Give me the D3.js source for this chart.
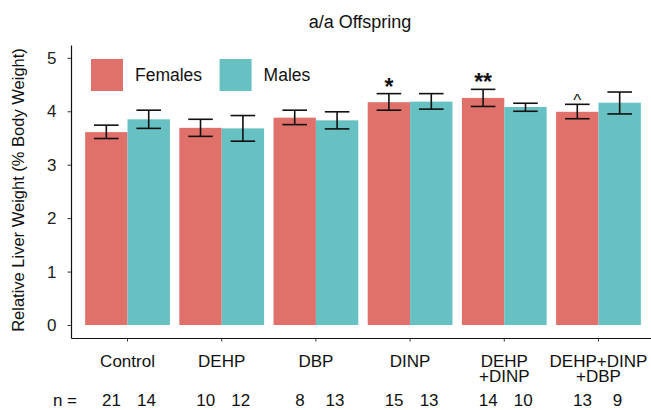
<!DOCTYPE html>
<html>
<head>
<meta charset="utf-8">
<script src="https://cdn.jsdelivr.net/npm/d3@7"></script>
<style>
  body { margin: 0; background: #fff; }
  svg { display: block; font-family: "Liberation Sans", Arial, Helvetica, sans-serif; }
</style>
</head>
<body>
<div id="chart"></div>
<script>
// data
const groups = ["Control", "DEHP", "DBP", "DINP", "DEHP\n+DINP", "DEHP+DINP\n+DBP"];
const sexes = ["Females", "Males"];
const femaleMean = [3.61, 3.69, 3.88, 4.17, 4.25, 3.99];
const femaleLow  = [3.49, 3.53, 3.75, 4.02, 4.09, 3.86];
const femaleHigh = [3.74, 3.85, 4.02, 4.33, 4.41, 4.13];
const maleMean = [3.85, 3.68, 3.83, 4.18, 4.08, 4.16];
const maleLow  = [3.68, 3.44, 3.67, 4.04, 4.00, 3.95];
const maleHigh = [4.02, 3.92, 3.99, 4.33, 4.15, 4.36];
const femaleN = [21, 10, 8, 15, 14, 13];
const maleN = [14, 12, 13, 13, 10, 9];
const femaleMarks = ["", "", "", "*", "**", "^"];
const yTicks = [0, 1, 2, 3, 4, 5];

const colors = { Females: "#E0716A", Males: "#67C1C3" };

const width = 651, height = 410;
const svg = d3.select("#chart").append("svg")
  .attr("width", width)
  .attr("height", height);

// build rows for the bars
const rows = [];
groups.forEach((g, i) => {
  rows.push({ group: g, sex: "Females", mean: femaleMean[i], lo: femaleLow[i], hi: femaleHigh[i], n: femaleN[i], mark: femaleMarks[i] });
  rows.push({ group: g, sex: "Males", mean: maleMean[i], lo: maleLow[i], hi: maleHigh[i], n: maleN[i], mark: "" });
});

var x = d3.scaleBand()
  .domain(groups)
  .range([71, 655])
  .paddingInner(0.1)
  .paddingOuter(0.15);

var xSub = d3.scaleBand()
  .domain(sexes)
  .range([0, x.bandwidth()]);

var y = d3.scaleLinear()
  .domain([-0.243, 5.24])
  .range([338, 45]);

// bars
svg.append("g")
  .selectAll("rect")
  .data(rows)
  .enter()
  .append("rect")
    .attr("x", d => x(d.group) + xSub(d.sex))
    .attr("y", d => y(d.mean))
    .attr("width", xSub.bandwidth())
    .attr("height", d => y(0) - y(d.mean))
    .attr("fill", d => colors[d.sex]);

// error bars
const capHalf = 12.3;
const err = svg.append("g")
  .attr("stroke", "#111")
  .attr("stroke-width", 1.6)
  .attr("fill", "none");
rows.forEach(d => {
  const cx = x(d.group) + xSub(d.sex) + xSub.bandwidth() / 2;
  err.append("line").attr("x1", cx).attr("x2", cx).attr("y1", y(d.lo)).attr("y2", y(d.hi));
  err.append("line").attr("x1", cx - capHalf).attr("x2", cx + capHalf).attr("y1", y(d.lo)).attr("y2", y(d.lo));
  err.append("line").attr("x1", cx - capHalf).attr("x2", cx + capHalf).attr("y1", y(d.hi)).attr("y2", y(d.hi));
});

// significance marks
svg.append("g")
  .selectAll("text")
  .data(rows.filter(d => d.mark !== ""))
  .enter()
  .append("text")
    .attr("x", d => x(d.group) + xSub(d.sex) + xSub.bandwidth() / 2)
    .attr("y", d => d.mark === "^" ? y(d.hi) + 2 : y(d.hi) + 1)
    .attr("text-anchor", "middle")
    .attr("font-size", d => d.mark === "^" ? 17 : 23)
    .attr("font-weight", d => d.mark === "^" ? "normal" : "bold")
    .attr("fill", "#111")
    .text(d => d.mark);

// y axis
const yAxis = svg.append("g")
  .attr("transform", "translate(71,0)")
  .call(d3.axisLeft(y).tickValues(yTicks).tickFormat(d3.format("d")).tickSize(3.5).tickSizeOuter(0).tickPadding(11));
yAxis.select(".domain").attr("stroke", "#111").attr("stroke-width", 1.2);
yAxis.selectAll(".tick line").attr("stroke", "#333");
yAxis.selectAll(".tick text")
  .attr("font-size", 17)
  .attr("fill", "#222")
  .attr("font-family", "Liberation Sans, Arial, sans-serif");

// x axis
const xAxis = svg.append("g")
  .attr("transform", "translate(0,338)")
  .call(d3.axisBottom(x).tickSize(3.5).tickSizeOuter(0).tickFormat(""));
xAxis.select(".domain").attr("stroke", "#111").attr("stroke-width", 1.2);
xAxis.selectAll(".tick line").attr("stroke", "#333");

// x labels (multi line)
const xLab = svg.append("g")
  .selectAll("text")
  .data(groups)
  .enter()
  .append("text")
    .attr("text-anchor", "middle")
    .attr("font-size", 17)
    .attr("fill", "#111");
xLab.each(function(g) {
  const t = d3.select(this);
  g.split("\n").forEach((part, k) => {
    t.append("tspan")
      .attr("x", x(g) + x.bandwidth() / 2)
      .attr("y", 366.5 + k * 15.5)
      .text(part);
  });
});

// n row
svg.append("text")
  .attr("x", 77)
  .attr("y", 406)
  .attr("text-anchor", "end")
  .attr("font-size", 17)
  .attr("fill", "#111")
  .text("n =");
svg.append("g")
  .selectAll("text")
  .data(rows)
  .enter()
  .append("text")
    .attr("x", d => x(d.group) + x.bandwidth() / 2 + (d.sex === "Females" ? -16 : 19))
    .attr("y", 406)
    .attr("text-anchor", "middle")
    .attr("font-size", 17)
    .attr("fill", "#111")
    .text(d => d.n);

// title
svg.append("text")
  .attr("x", 360)
  .attr("y", 28)
  .attr("text-anchor", "middle")
  .attr("font-size", 18)
  .attr("fill", "#111")
  .text("a/a Offspring");

// y axis title
svg.append("text")
  .attr("transform", "translate(24,190) rotate(-90)")
  .attr("text-anchor", "middle")
  .attr("font-size", 16.5)
  .attr("fill", "#111")
  .text("Relative Liver Weight (% Body Weight)");

// legend
const legend = svg.append("g")
  .selectAll("g")
  .data(sexes)
  .enter()
  .append("g")
    .attr("transform", (d, i) => "translate(" + (91 + i * 128.6) + ",59)");
legend.append("rect")
  .attr("width", 32)
  .attr("height", 32)
  .attr("fill", d => colors[d]);
legend.append("text")
  .attr("x", 44)
  .attr("y", 16)
  .attr("dy", "0.36em")
  .attr("font-size", 17.5)
  .attr("fill", "#111")
  .text(d => d);
</script>
</body>
</html>
